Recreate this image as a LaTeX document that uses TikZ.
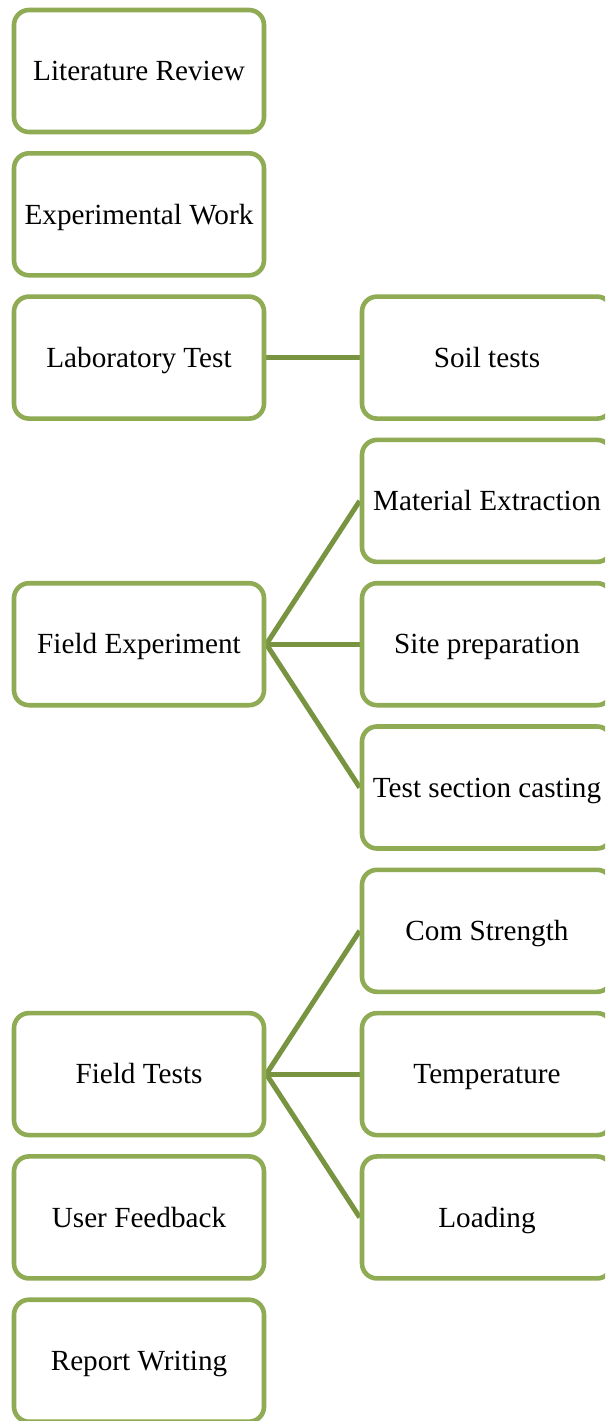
\documentclass[tikz,border=0pt]{standalone}
\usepackage{fontspec}
\setmainfont{Liberation Serif}
\usetikzlibrary{backgrounds}
\definecolor{boxgreen}{RGB}{143,172,84}
\definecolor{linkgreen}{RGB}{120,148,64}
\tikzset{
  stepbox/.style={draw=boxgreen, line width=4.6pt, fill=white, rounded corners=15pt,
    minimum width=250pt, minimum height=122pt, inner sep=0pt,
    text height=19.5pt, text depth=0pt,
    font=\fontsize{29.2}{34}\selectfont, text=black},
  link/.style={draw=linkgreen, line width=5pt}
}
\begin{document}
\begin{tikzpicture}[x=1pt,y=-1pt]
\clip (0,0) rectangle (605,1421);
% left column
\node[stepbox] (lit) at (139,71) {Literature Review};
\node[stepbox] (exp) at (139,214.3) {Experimental Work};
\node[stepbox] (lab) at (139,357.6) {Laboratory Test};
\node[stepbox] (fex) at (139,644.2) {Field Experiment};
\node[stepbox] (fts) at (139,1074.1) {Field Tests};
\node[stepbox] (usr) at (139,1217.4) {User Feedback};
\node[stepbox] (rep) at (139,1360.7) {Report Writing};
% right column
\node[stepbox] (soil) at (487,357.6) {Soil tests};
\node[stepbox] (mat) at (487,500.9) {Material Extraction};
\node[stepbox] (site) at (487,644.2) {Site preparation};
\node[stepbox] (cast) at (487,787.5) {Test section casting};
\node[stepbox] (com) at (487,930.8) {Com Strength};
\node[stepbox] (temp) at (487,1074.1) {Temperature};
\node[stepbox] (load) at (487,1217.4) {Loading};
\begin{scope}[on background layer]
\fill[white] (0,0) rectangle (605,1421);
\draw[link] (lab.east) -- (soil.west);
\draw[link] (fex.east) -- (mat.west);
\draw[link] (fex.east) -- (site.west);
\draw[link] (fex.east) -- (cast.west);
\draw[link] (fts.east) -- (com.west);
\draw[link] (fts.east) -- (temp.west);
\draw[link] (fts.east) -- (load.west);
\end{scope}
\end{tikzpicture}
\end{document}
